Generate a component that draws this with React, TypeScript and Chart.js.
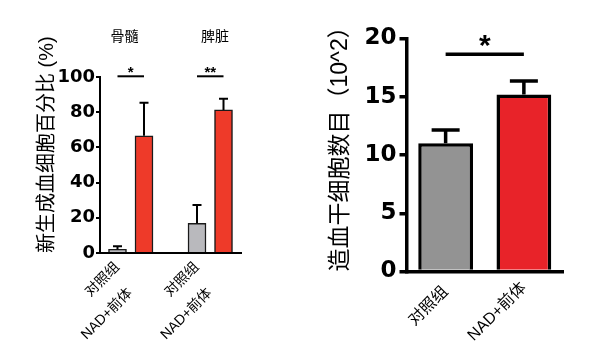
import React, { useEffect, useRef } from "react";
import { Chart, registerables } from "chart.js";

Chart.register(...registerables);

// ---------- Left panel data ----------
const tissues = ["骨髓", "脾脏"];
const barLabelsLeft = ["对照组", "NAD+前体"];
const controlPct = [2.1, 16.9];
const controlPctErr = [1.7, 10.4];
const nadPct = [66.6, 81.3];
const nadPctErr = [18.8, 6.3];
const sigLeftMarks = ["*", "**"];
const sigLeftLevel = [100.4, 100.4];
const yTicksLeftMax = 100;
const yTicksLeftStep = 20;

// ---------- Right panel data ----------
const groupsRight = ["对照组", "NAD+前体"];
const hscCount = [11.0, 15.2];
const hscErr = [1.15, 1.15];
const sigRightMark = "*";
const sigRightLevel = 18.65;
const yTicksRightMax = 20;
const yTicksRightStep = 5;

// ---------- styles ----------
const FONT_TEXT = "'Liberation Sans', 'Noto Sans CJK SC', sans-serif";
const FONT_NUM = "'DejaVu Sans', 'Liberation Sans', sans-serif";
const GRAY_L = "#b9b9bd";
const RED_L = "#ee3a29";
const GRAY_R = "#939393";
const RED_R = "#e82329";

function errorBarPlugin(errs: number[], lineWidth: number, capWidth: number) {
  return {
    id: "errbars",
    afterDatasetsDraw(chart: any) {
      const ctx = chart.ctx;
      const yScale = chart.scales.y;
      const meta = chart.getDatasetMeta(0);
      const ds = chart.data.datasets[0];
      meta.data.forEach((el: any, i: number) => {
        const raw = ds.data[i];
        const v = typeof raw === "number" ? raw : raw.y;
        const yTop = yScale.getPixelForValue(v + errs[i]);
        ctx.save();
        ctx.strokeStyle = "#000";
        ctx.lineWidth = lineWidth;
        ctx.beginPath();
        ctx.moveTo(el.x, el.y);
        ctx.lineTo(el.x, yTop);
        ctx.moveTo(el.x - capWidth / 2, yTop);
        ctx.lineTo(el.x + capWidth / 2, yTop);
        ctx.stroke();
        ctx.restore();
      });
    },
  };
}

function sigPlugin(
  pairs: [number, number][],
  levels: number[],
  marks: string[],
  lineWidth: number,
  font: string,
  textDy: number
) {
  return {
    id: "sig",
    afterDatasetsDraw(chart: any) {
      const ctx = chart.ctx;
      const yScale = chart.scales.y;
      const meta = chart.getDatasetMeta(0);
      pairs.forEach(([a, b], k) => {
        const x1 = meta.data[a].x;
        const x2 = meta.data[b].x;
        const y = yScale.getPixelForValue(levels[k]);
        ctx.save();
        ctx.strokeStyle = "#000";
        ctx.lineWidth = lineWidth;
        ctx.beginPath();
        ctx.moveTo(x1, y);
        ctx.lineTo(x2, y);
        ctx.stroke();
        ctx.fillStyle = "#000";
        ctx.font = font;
        ctx.textAlign = "center";
        ctx.textBaseline = "alphabetic";
        ctx.fillText(marks[k], (x1 + x2) / 2, y + textDy);
        ctx.restore();
      });
    },
  };
}

function groupTitlePlugin(titles: string[], xVals: number[], yPix: number) {
  return {
    id: "groupTitles",
    afterDraw(chart: any) {
      const ctx = chart.ctx;
      const xScale = chart.scales.x;
      ctx.save();
      ctx.fillStyle = "#000";
      ctx.font = "14px 'Noto Sans CJK SC', sans-serif";
      ctx.textAlign = "center";
      ctx.textBaseline = "middle";
      titles.forEach((t, i) => {
        ctx.fillText(t, xScale.getPixelForValue(xVals[i]), yPix);
      });
      ctx.restore();
    },
  };
}

function LeftChart() {
  const ref = useRef<HTMLCanvasElement>(null);
  useEffect(() => {
    const xs: number[] = [];
    const ys: number[] = [];
    const errs: number[] = [];
    const colors: string[] = [];
    const tickText: string[] = [];
    tissues.forEach((_, i) => {
      xs.push(3 * i + 1, 3 * i + 2);
      ys.push(controlPct[i], nadPct[i]);
      errs.push(controlPctErr[i], nadPctErr[i]);
      colors.push(GRAY_L, RED_L);
      tickText.push(barLabelsLeft[0], barLabelsLeft[1] + "     ");
    });
    const chart = new Chart(ref.current as HTMLCanvasElement, {
      type: "bar",
      data: {
        datasets: [
          {
            data: xs.map((x, i) => ({ x, y: ys[i] })),
            backgroundColor: colors,
            borderColor: "#1a1a1a",
            borderWidth: 1.5,
            barThickness: 18,
          } as any,
        ],
      },
      options: {
        responsive: false,
        animation: false,
        layout: { padding: { top: 77, right: 59, left: 0, bottom: 0 } },
        plugins: { legend: { display: false }, tooltip: { enabled: false } },
        scales: {
          x: {
            type: "linear",
            min: 0.34,
            max: 5.66,
            offset: false,
            bounds: "data",
            grid: { display: false, drawTicks: false, offset: false },
            border: { display: true, color: "#000", width: 2 },
            afterBuildTicks: (s: any) => {
              s.ticks = xs.map((v) => ({ value: v }));
            },
            afterFit: (s: any) => {
              s.height = 104;
            },
            ticks: {
              autoSkip: false,
              minRotation: 45,
              maxRotation: 45,
              padding: 6,
              color: "#000",
              font: (c: any) => ({
                size: 14,
                family: FONT_TEXT,
                lineHeight: c.index % 2 === 1 ? 3.66 : 1.2,
              }),
              callback: (_v: any, i: number) => tickText[i],
            },
          },
          y: {
            min: 0,
            max: yTicksLeftMax,
            ticks: {
              stepSize: yTicksLeftStep,
              color: "#000",
              padding: 1,
              font: { family: FONT_NUM, weight: "bold", size: 18 },
            },
            grid: { drawOnChartArea: false, tickLength: 4, color: "#000", lineWidth: 2 },
            border: { color: "#000", width: 2 },
            afterFit: (s: any) => {
              s.width = 100;
            },
            title: {
              display: true,
              text: "新生成血细胞百分比 (%)",
              align: "start",
              color: "#000",
              font: { size: 20, family: FONT_TEXT },
              padding: { top: 35, bottom: 0 },
            },
          },
        },
      } as any,
      plugins: [
        errorBarPlugin(errs, 2, 9),
        sigPlugin(
          [
            [0, 1],
            [2, 3],
          ],
          sigLeftLevel,
          sigLeftMarks,
          2,
          "bold 15px 'Liberation Sans', sans-serif",
          1
        ),
        groupTitlePlugin(tissues, [1.26, 4.68], 36),
      ],
    });
    return () => chart.destroy();
  }, []);
  return (
    <canvas
      ref={ref}
      width={300}
      height={357}
      style={{ position: "absolute", left: 0, top: 0, width: 300, height: 357 }}
    />
  );
}

function RightChart() {
  const ref = useRef<HTMLCanvasElement>(null);
  useEffect(() => {
    const chart = new Chart(ref.current as HTMLCanvasElement, {
      type: "bar",
      data: {
        labels: groupsRight,
        datasets: [
          {
            data: hscCount,
            backgroundColor: [GRAY_R, RED_R],
            borderColor: "#000",
            borderWidth: 3.5,
            barPercentage: 0.7,
            categoryPercentage: 1,
          } as any,
        ],
      },
      options: {
        responsive: false,
        animation: false,
        layout: { padding: { top: 38.5, right: 46, left: 0, bottom: 0 } },
        plugins: { legend: { display: false }, tooltip: { enabled: false } },
        scales: {
          x: {
            grid: { display: false, drawTicks: false },
            border: { display: true, color: "#000", width: 3.5 },
            afterFit: (s: any) => {
              s.height = 85.5;
            },
            ticks: {
              autoSkip: false,
              minRotation: 45,
              maxRotation: 45,
              padding: 7,
              color: "#000",
              font: (c: any) => ({
                size: 16,
                family: FONT_TEXT,
                lineHeight: c.index === 0 ? 1.9 : 1.2,
              }),
            },
          },
          y: {
            min: 0,
            max: yTicksRightMax,
            ticks: {
              stepSize: yTicksRightStep,
              color: "#000",
              padding: 3,
              font: { family: FONT_NUM, weight: "bold", size: 23 },
            },
            grid: { drawOnChartArea: false, tickLength: 7, color: "#000", lineWidth: 3.5 },
            border: { color: "#000", width: 3.5 },
            afterFit: (s: any) => {
              s.width = 106.5;
            },
            title: {
              display: true,
              text: "造血干细胞数目（10^2）",
              align: "start",
              color: "#000",
              font: { size: 23, family: FONT_TEXT },
              padding: { top: 27, bottom: 0 },
            },
          },
        },
      } as any,
      plugins: [
        errorBarPlugin(hscErr, 3.5, 28),
        sigPlugin([[0, 1]], [sigRightLevel], [sigRightMark], 3.5, "bold 30px 'Liberation Sans', sans-serif", 1),
      ],
    });
    return () => chart.destroy();
  }, []);
  return (
    <canvas
      ref={ref}
      width={309}
      height={357}
      style={{ position: "absolute", left: 300, top: 0, width: 309, height: 357 }}
    />
  );
}

export default function App() {
  return (
    <div
      style={{
        position: "absolute",
        left: 0,
        top: 0,
        width: 609,
        height: 357,
        background: "#fff",
        overflow: "hidden",
      }}
    >
      <LeftChart />
      <RightChart />
    </div>
  );
}
